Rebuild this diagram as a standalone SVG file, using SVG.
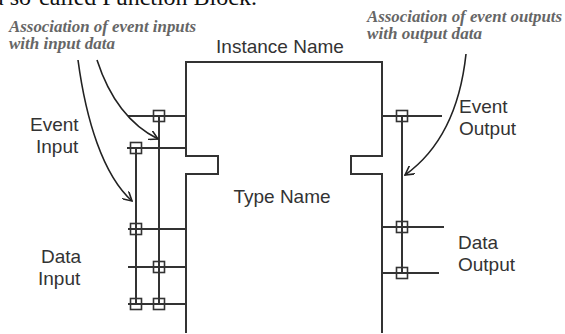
<svg xmlns="http://www.w3.org/2000/svg" width="565" height="334" viewBox="0 0 565 334">
<defs>
<style>
.ln{stroke:#333;stroke-width:2;fill:none}
.sq{stroke:#333;stroke-width:1.6;fill:none}
.lbl{font-family:"Liberation Sans",Arial,sans-serif;font-size:19px;fill:#333}
.ann{font-family:"Liberation Serif","Times New Roman",serif;font-size:16px;font-style:italic;font-weight:bold;fill:#666}
.cv{stroke:#222;stroke-width:1.6;fill:none;marker-end:url(#ah)}
</style>
<marker id="ah" viewBox="0 0 10 10" refX="9" refY="5" markerWidth="10" markerHeight="10" markerUnits="userSpaceOnUse" orient="auto">
<path d="M0,0 L9,5 L0,10" fill="none" stroke="#222" stroke-width="1.6"/>
</marker>
</defs>
<rect width="565" height="334" fill="#fff"/>
<text x="-7" y="5" font-family="Liberation Serif,'Times New Roman',serif" font-size="24" fill="#111">a so-called Function Block.</text>

<g id="block">
<path class="ln" d="M186,333 V174 H218 V156 H186 V62 H382 V156 H351 V174 H382 V333"/>
<text class="lbl" x="280" y="53" text-anchor="middle">Instance Name</text>
<text class="lbl" x="282" y="203" text-anchor="middle">Type Name</text>
</g>

<g id="inputs">
<line class="ln" x1="128" y1="116" x2="186" y2="116"/>
<line class="ln" x1="127" y1="148" x2="186" y2="148"/>
<line class="ln" x1="128" y1="229" x2="186" y2="229"/>
<line class="ln" x1="128" y1="267" x2="186" y2="267"/>
<line class="ln" x1="128" y1="304" x2="186" y2="304"/>
<line class="ln" x1="136" y1="148" x2="136" y2="304"/>
<line class="ln" x1="159" y1="116" x2="159" y2="304"/>
<rect class="sq" x="153.5" y="110.5" width="11" height="11"/>
<rect class="sq" x="130.5" y="142.5" width="11" height="11"/>
<rect class="sq" x="130.5" y="223.5" width="11" height="11"/>
<rect class="sq" x="153.5" y="261.5" width="11" height="11"/>
<rect class="sq" x="130.5" y="298.5" width="11" height="11"/>
<rect class="sq" x="153.5" y="298.5" width="11" height="11"/>
<text class="lbl" x="30" y="131">Event</text>
<text class="lbl" x="36" y="153">Input</text>
<text class="lbl" x="41" y="263">Data</text>
<text class="lbl" x="38" y="285">Input</text>
</g>

<g id="outputs">
<line class="ln" x1="382" y1="116" x2="442" y2="116"/>
<line class="ln" x1="382" y1="227" x2="444" y2="227"/>
<line class="ln" x1="382" y1="273" x2="439" y2="273"/>
<line class="ln" x1="402" y1="116" x2="402" y2="273"/>
<rect class="sq" x="396.5" y="110.5" width="11" height="11"/>
<rect class="sq" x="396.5" y="221.5" width="11" height="11"/>
<rect class="sq" x="396.5" y="267.5" width="11" height="11"/>
<text class="lbl" x="459" y="113">Event</text>
<text class="lbl" x="459" y="135">Output</text>
<text class="lbl" x="458" y="249">Data</text>
<text class="lbl" x="458" y="271">Output</text>
</g>

<g id="annotations">
<text class="ann" x="9" y="32" textLength="187" lengthAdjust="spacingAndGlyphs">Association of event inputs</text>
<text class="ann" x="9" y="49" textLength="106" lengthAdjust="spacingAndGlyphs">with input data</text>
<text class="ann" x="367" y="22" textLength="195" lengthAdjust="spacingAndGlyphs">Association of event outputs</text>
<text class="ann" x="367" y="39" textLength="115" lengthAdjust="spacingAndGlyphs">with output data</text>
</g>

<g id="connectors">
<path class="cv" d="M78,60 C86,120 103,175 132,201"/>
<path class="cv" d="M97,60 C110,100 130,125 158,139"/>
<path class="cv" d="M466,54 C460,110 440,150 405,175"/>
</g>
</svg>
